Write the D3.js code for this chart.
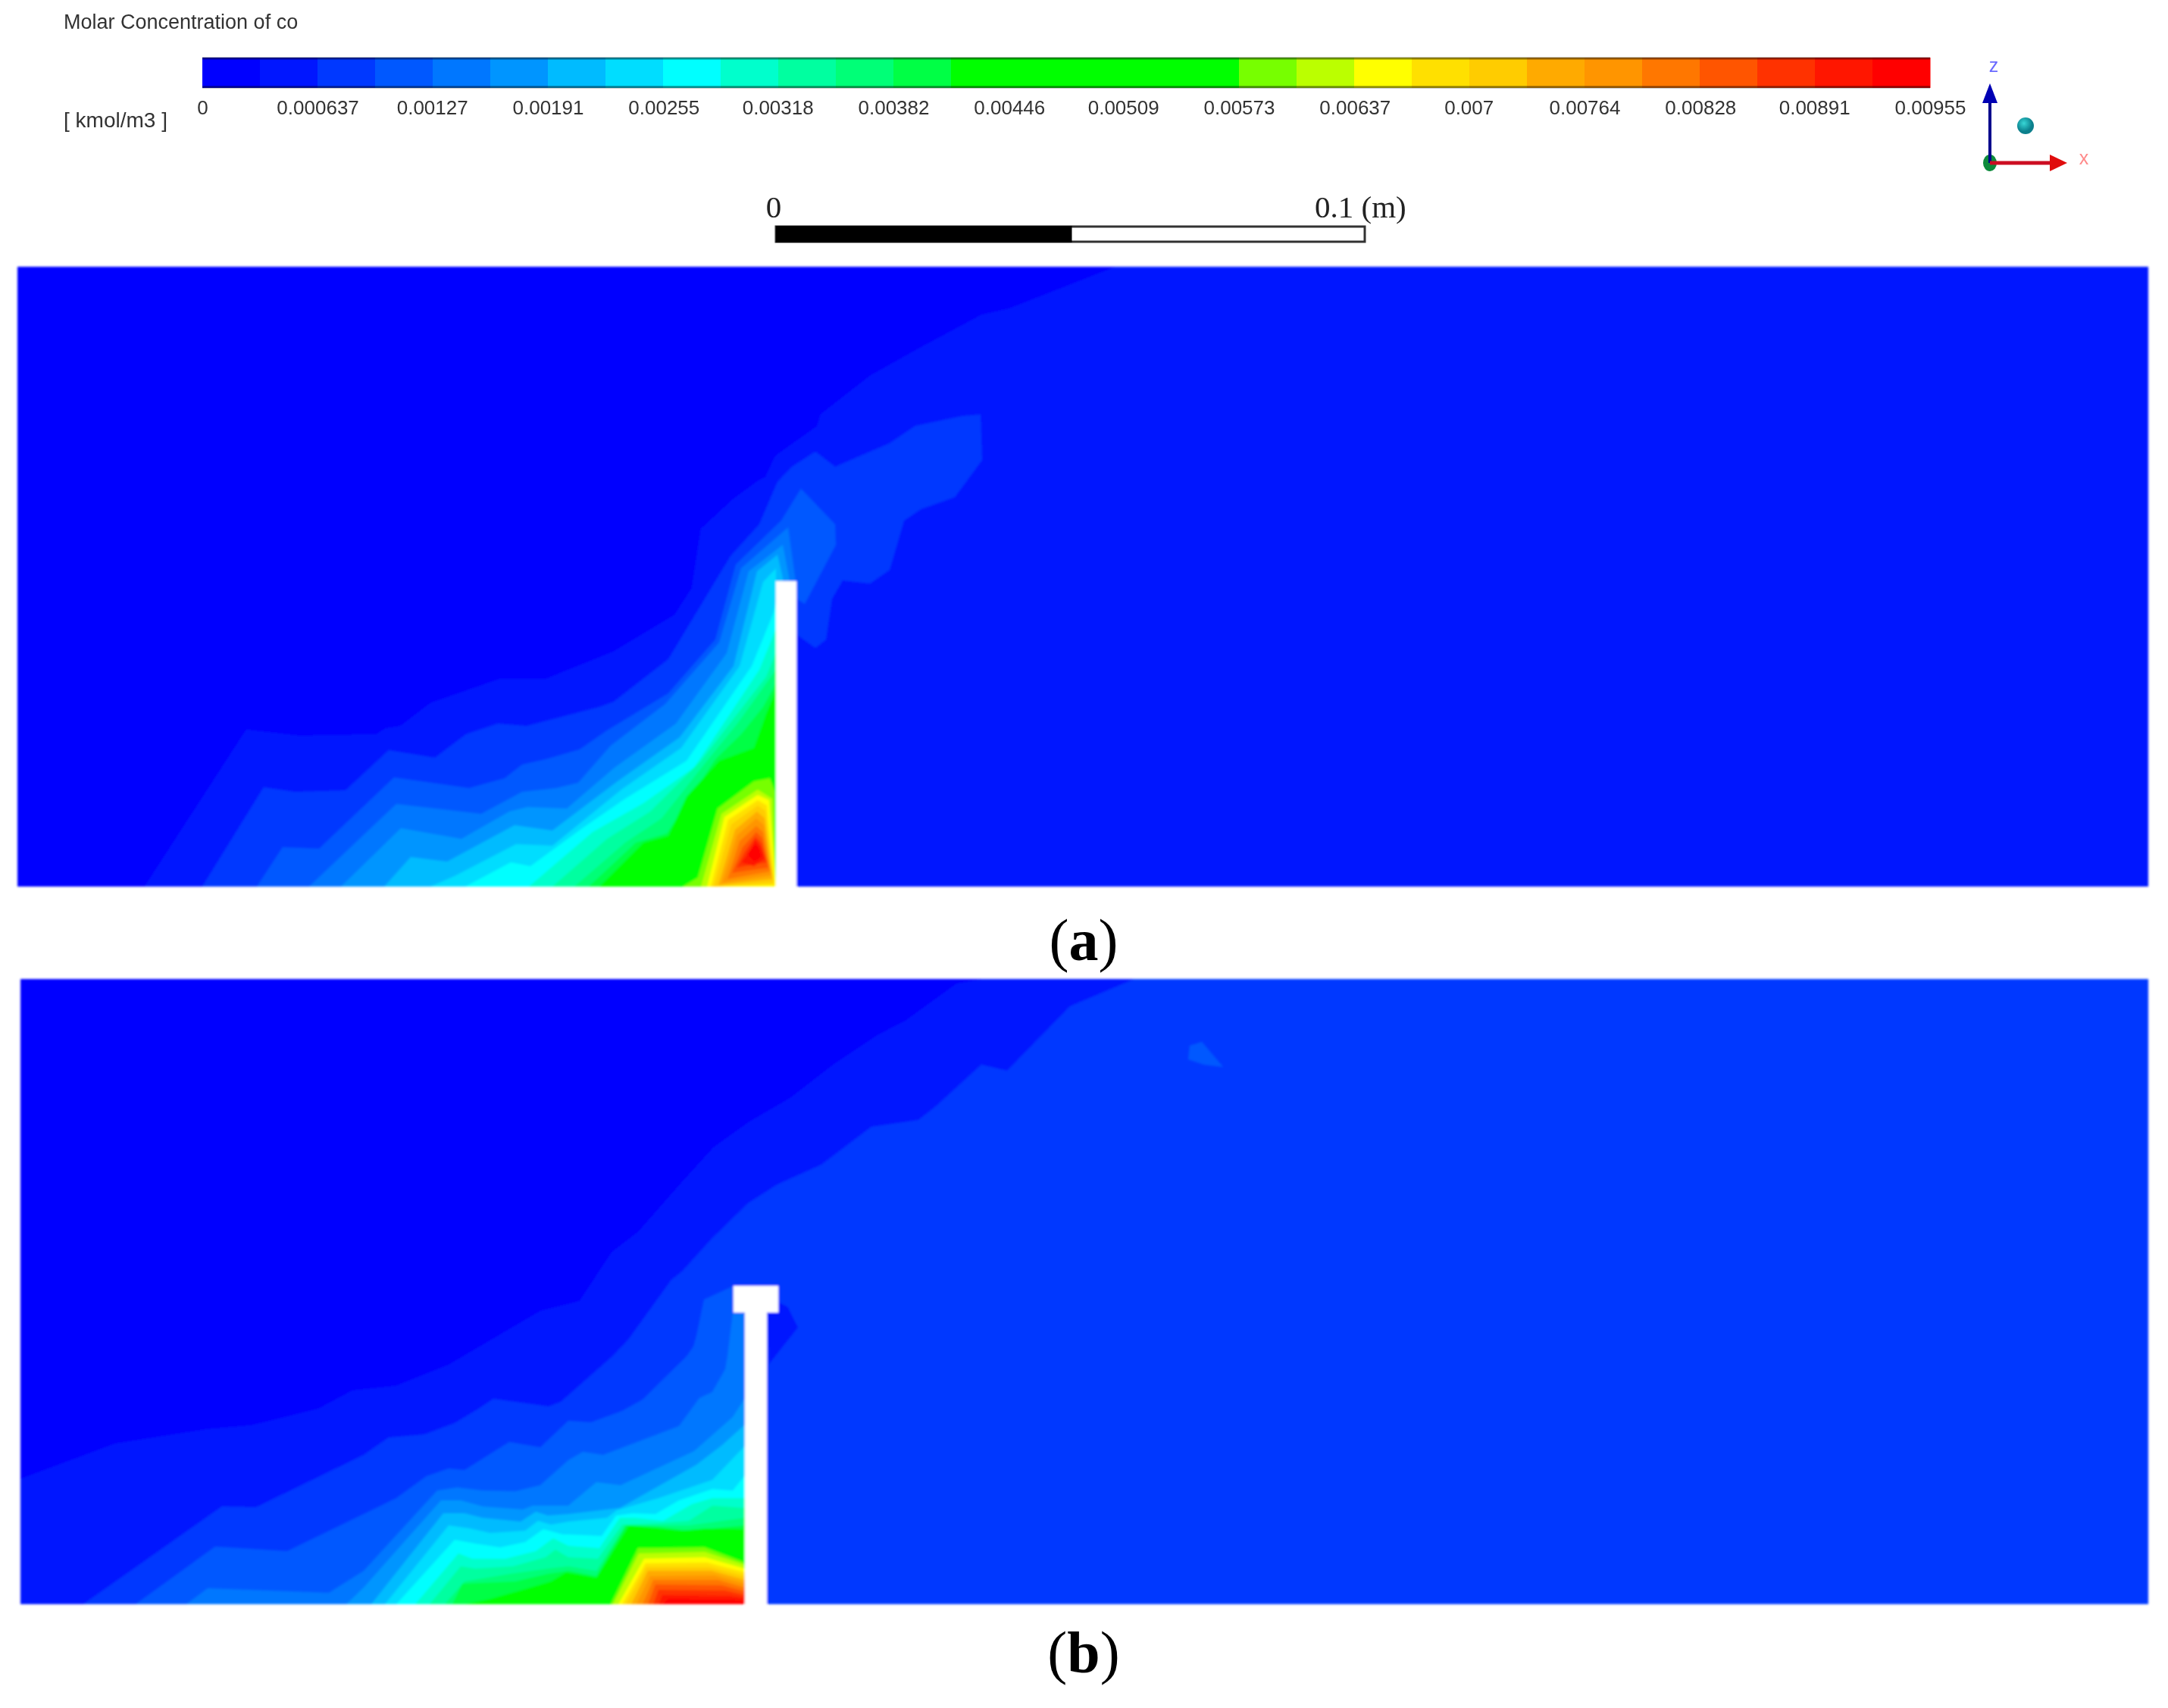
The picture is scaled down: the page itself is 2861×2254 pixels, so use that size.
<!DOCTYPE html>
<html>
<head>
<meta charset="utf-8">
<title>Molar concentration of CO</title>
<script src="https://d3js.org/d3.v7.min.js"></script>
<style>
    html, body { margin: 0; padding: 0; background: #fff; }
    svg { display: block; }
</style>
</head>
<body>
<svg id="chart" width="2861" height="2254"></svg>
<script>
// Colour bar: 30 flat bands, one label every second band
const bandColors = [
    "#0000ff", "#0014ff", "#0038ff", "#0059ff", "#0077ff", "#0095ff", "#00bbff", "#00ddff",
    "#00ffff", "#00ffcc", "#00ffa0", "#00ff77", "#00ff44", "#00ff00", "#00ff00", "#00ff00",
    "#00ff00", "#00ff00", "#77ff00", "#bbff00", "#ffff00", "#ffe000", "#ffcc00", "#ffaa00",
    "#ff9500", "#ff7700", "#ff5500", "#ff3300", "#ff1500", "#ff0000"
];
const tickValues = [0, 0.000637, 0.00127, 0.00191, 0.00255, 0.00318, 0.00382, 0.00446,
    0.00509, 0.00573, 0.00637, 0.007, 0.00764, 0.00828, 0.00891, 0.00955];
const tickLabels = ["0", "0.000637", "0.00127", "0.00191", "0.00255", "0.00318", "0.00382", "0.00446",
    "0.00509", "0.00573", "0.00637", "0.007", "0.00764", "0.00828", "0.00891", "0.00955"];

// Contour boundaries, as [along floor, above floor].
// Unit: 776 units = 0.1 m, the length of the scale bar. Each list closes on itself
// and the area inside it is at or above the band with that number.
const a2 = [[168,0],[302,207],[372,199],[474,201],[487,209],[506,212],[545,242],[637,274],[698,274],[787,310],[867,358],[890,394],[902,472],[943,510],[977,535],[987,540],[1000,568],[1055,607],[1060,623],[1124,673],[1190,710],[1274,755],[1310,763],[1450,818],[2812,818],[2812,0]];
const a3 = [[244,0],[325,131],[366,125],[433,127],[490,180],[551,170],[592,201],[634,215],[672,212],[768,237],[787,244],[859,300],[941,436],[979,478],[1003,534],[1022,554],[1053,574],[1079,554],[1151,585],[1185,608],[1247,621],[1271,623],[1273,563],[1237,514],[1192,498],[1170,483],[1151,418],[1125,400],[1089,404],[1075,380],[1067,326],[1053,315],[1028,333],[1028,0]];
const a4 = [[316,0],[350,52],[398,50],[497,144],[596,130],[643,143],[666,161],[697,168],[742,181],[778,206],[859,255],[921,326],[948,425],[1008,483],[1034,525],[1079,478],[1080,451],[1039,373],[1028,380],[1028,0]];
const a5 = [[385,0],[500,109],[612,96],[642,112],[666,125],[711,130],[740,137],[783,186],[855,241],[926,322],[955,420],[1017,474],[1027,402],[1028,0]];
const a6 = [[427,0],[506,77],[586,63],[649,99],[673,105],[725,103],[788,157],[869,215],[936,308],[965,416],[1010,451],[1019,404],[1019,0]];
const a7 = [[484,0],[519,39],[567,33],[656,81],[706,74],[792,139],[874,197],[945,291],[976,416],[1003,438],[1010,407],[1010,0]];
const a8 = [[545,0],[577,14],[658,56],[706,54],[797,128],[876,183],[953,291],[984,402],[1001,420],[1001,0]];
const a9 = [[591,0],[651,32],[677,27],[744,76],[802,116],[883,166],[969,291],[998,362],[1001,375],[1001,0]];
const a10 = [[675,0],[759,72],[826,110],[893,157],[979,286],[1001,340],[1001,0]];
const a11 = [[706,0],[778,63],[835,99],[902,166],[988,277],[1001,308],[1001,0]];
const a12 = [[735,0],[802,58],[850,90],[910,166],[950,215],[988,268],[1001,286],[1001,0]];
const a13 = [[754,0],[816,58],[857,70],[921,168],[955,201],[984,237],[1001,268],[1001,0]];
const a14 = [[768,0],[826,58],[859,67],[883,119],[926,166],[972,183],[988,228],[1001,259],[1001,0]];
const a19 = [[878,0],[898,12],[924,103],[972,139],[993,143],[1000,125],[1001,0]];
const a20 = [[902,0],[929,96],[977,128],[996,116],[1001,0]];
const a21 = [[910,0],[933,92],[977,121],[992,114],[1001,5],[1001,0]];
const a22 = [[915,0],[938,88],[977,114],[989,107],[999,2]];
const a23 = [[919,0],[942,82],[977,107],[987,100],[998,5]];
const a24 = [[925,2],[947,75],[976,99],[986,90],[996,10]];
const a25 = [[930,5],[950,68],[975,90],[985,81],[995,15]];
const a26 = [[937,10],[953,60],[975,80],[984,72],[993,20]];
const a27 = [[943,18],[957,52],[975,72],[983,64],[991,25]];
const a28 = [[949,25],[960,46],[974,66],[982,57],[989,32]];
const a29 = [[955,32],[963,42],[974,62],[981,52],[986,37],[972,27]];
const a30 = [[963,43],[974,57],[979,50],[982,40],[973,32]];

const b2 = [[0,165],[126,212],[247,231],[305,236],[394,258],[439,282],[496,288],[566,316],[687,387],[738,400],[780,464],[815,491],[873,557],[914,602],[960,635],[1015,667],[1073,712],[1130,750],[1167,769],[1236,819],[1272,825],[2808,825],[2808,0],[0,0]];
const b3 = [[83,0],[266,129],[311,128],[453,197],[486,220],[533,224],[573,239],[603,257],[624,271],[697,261],[713,267],[781,327],[802,349],[859,428],[873,439],[912,482],[960,529],[999,554],[1057,580],[1123,630],[1185,639],[1208,657],[1268,712],[1302,704],[1385,789],[1470,825],[2808,825],[2808,0]];
const bBehindWall = [[986,385],[1000,399],[1013,392],[1026,365],[988,317]];
const bLens = [[1543,737],[1559,742],[1587,709],[1562,712],[1541,719]];
const b4 = [[152,0],[257,76],[352,70],[453,119],[496,140],[536,169],[565,179],[586,177],[645,214],[686,207],[723,242],[753,240],[794,255],[821,270],[879,327],[888,340],[892,354],[902,402],[941,420],[956,420],[956,0]];
const b5 = [[219,0],[247,21],[407,15],[453,44],[550,150],[576,154],[610,150],[653,149],[686,157],[723,190],[742,201],[769,197],[869,235],[896,272],[913,280],[930,310],[933,327],[940,384],[956,384],[956,0]];
const b6 = [[430,0],[453,22],[555,137],[581,137],[610,129],[663,125],[676,130],[723,130],[760,161],[792,157],[889,202],[940,247],[956,272],[956,0]];
const b7 = [[463,0],[558,120],[586,120],[610,114],[660,109],[680,122],[696,117],[723,119],[791,127],[892,184],[926,210],[956,237],[956,0]];
const b8 = [[481,0],[565,104],[593,100],[620,94],[666,97],[683,110],[700,105],[723,109],[774,114],[787,124],[842,140],[913,164],[956,209],[956,0]];
const b9 = [[496,0],[573,85],[600,80],[633,75],[666,82],[690,99],[716,92],[723,92],[767,90],[786,117],[808,120],[838,119],[869,137],[913,152],[940,150],[956,170],[956,0]];
const b10 = [[521,0],[578,67],[596,60],[640,60],[680,70],[703,87],[723,77],[764,74],[791,114],[811,114],[848,110],[886,132],[913,140],[956,140],[956,0]];
const b11 = [[540,0],[581,50],[600,47],[650,50],[693,62],[706,72],[723,62],[762,60],[794,105],[842,107],[882,110],[913,130],[956,127],[956,0]];
const b12 = [[560,0],[586,30],[646,40],[696,47],[723,50],[760,44],[798,104],[842,104],[882,104],[956,114],[956,0]];
const b13 = [[570,0],[583,27],[653,30],[696,40],[723,44],[760,37],[799,104],[842,102],[882,97],[913,100],[956,104],[956,0]];
const b14 = [[586,0],[620,7],[666,20],[700,30],[720,42],[760,35],[803,104],[872,97],[906,100],[956,99],[956,0]];
const b19 = [[779,0],[815,74],[903,75],[956,55],[956,0]];
const b20 = [[782,0],[816,67],[903,69],[956,52],[956,0]];
const b21 = [[789,0],[823,60],[903,62],[956,47],[956,0]];
const b22 = [[794,0],[825,54],[906,55],[956,42],[956,0]];
const b23 = [[799,0],[826,49],[909,49],[956,37],[956,0]];
const b24 = [[806,0],[828,44],[912,44],[956,32],[956,0]];
const b25 = [[813,0],[831,37],[916,38],[956,27],[956,0]];
const b26 = [[821,0],[835,32],[920,32],[956,22],[956,0]];
const b27 = [[828,0],[838,26],[925,25],[956,17],[956,0]];
const b28 = [[835,0],[842,19],[930,18],[956,12],[956,0]];
const b29 = [[842,0],[847,12],[935,11],[956,8],[956,0]];
const b30 = [[848,0],[854,7],[940,6],[956,4],[956,0]];

const bandsA = [
    [2, a2], [3, a3], [4, a4], [5, a5], [6, a6], [7, a7], [8, a8], [9, a9], [10, a10], [11, a11],
    [12, a12], [13, a13], [14, a14], [19, a19], [20, a20], [21, a21], [22, a22], [23, a23], [24, a24],
    [25, a25], [26, a26], [27, a27], [28, a28], [29, a29], [30, a30]
];
const bandsB = [
    [2, b2], [3, b3], [2, bBehindWall], [4, bLens], [4, b4], [5, b5], [6, b6], [7, b7], [8, b8], [9, b9],
    [10, b10], [11, b11], [12, b12], [13, b13], [14, b14], [19, b19], [20, b20], [21, b21], [22, b22],
    [23, b23], [24, b24], [25, b25], [26, b26], [27, b27], [28, b28], [29, b29], [30, b30]
];

// Solid wall in each chamber, same units: [left, right, bottom, top]
const wallsA = [[1001, 1028, 0, 403]];
const wallsB = [[956, 985, 0, 395], [941, 1000, 385, 420]];

const svg = d3.select("#chart");
const defs = svg.append("defs");

const soft = defs.append("filter").attr("id", "soft")
    .attr("filterUnits", "userSpaceOnUse")
    .attr("x", 0).attr("y", 0).attr("width", 2861).attr("height", 2254);
soft.append("feGaussianBlur").attr("stdDeviation", 1.4);

const softText = defs.append("filter").attr("id", "softText")
    .attr("filterUnits", "userSpaceOnUse")
    .attr("x", 0).attr("y", 0).attr("width", 2861).attr("height", 340);
softText.append("feGaussianBlur").attr("stdDeviation", 0.7);

const sphereFill = defs.append("radialGradient").attr("id", "sphereFill").attr("cx", "40%").attr("cy", "35%");
sphereFill.append("stop").attr("offset", "0%").attr("stop-color", "#38d6d6");
sphereFill.append("stop").attr("offset", "100%").attr("stop-color", "#0a7f8c");

// Header: title, unit, colour bar
const header = svg.append("g").attr("filter", "url(#softText)");

header.append("text")
    .attr("x", 84).attr("y", 38)
    .attr("font-family", "Liberation Sans").attr("font-size", 27).attr("fill", "#333")
    .text("Molar Concentration of co");

header.append("text")
    .attr("x", 84).attr("y", 168)
    .attr("font-family", "Liberation Sans").attr("font-size", 28).attr("fill", "#333")
    .text("[ kmol/m3 ]");

const barBand = d3.scaleBand().domain(d3.range(30)).range([267, 2547]);
const barValue = d3.scaleLinear().domain([0, 0.00955]).range([267, 2547]);

header.selectAll("rect.band")
    .data(bandColors)
    .join("rect")
    .attr("class", "band")
    .attr("x", (d, i) => barBand(i))
    .attr("y", 76)
    .attr("width", barBand.bandwidth() + 0.5)
    .attr("height", 40)
    .attr("fill", d => d);

// darker top and bottom rim of the colour bar
[77, 115].forEach(y => {
    header.append("line")
        .attr("x1", 267).attr("x2", 2547)
        .attr("y1", y).attr("y2", y)
        .attr("stroke", "#000").attr("stroke-opacity", 0.45).attr("stroke-width", 3);
});

const barAxis = d3.axisBottom(barValue)
    .tickValues(tickValues)
    .tickFormat((d, i) => tickLabels[i])
    .tickSize(0)
    .tickPadding(17);

const barAxisG = header.append("g")
    .attr("transform", "translate(0,116)")
    .call(barAxis);
barAxisG.select(".domain").remove();
barAxisG.selectAll("text")
    .attr("font-family", "Liberation Sans").attr("font-size", 26).attr("fill", "#333");

// Scale bar
const barX = d3.scaleLinear().domain([0, 0.1]).range([1024, 1801]);

header.append("rect")
    .attr("x", barX(0)).attr("y", 299)
    .attr("width", barX(0.1) - barX(0)).attr("height", 20)
    .attr("fill", "#fff").attr("stroke", "#333").attr("stroke-width", 3);
header.append("rect")
    .attr("x", barX(0)).attr("y", 298)
    .attr("width", barX(0.05) - barX(0) + 2).attr("height", 22)
    .attr("fill", "#000");

header.append("text")
    .attr("x", barX(0) - 3).attr("y", 287)
    .attr("text-anchor", "middle")
    .attr("font-family", "Liberation Serif").attr("font-size", 41).attr("fill", "#222")
    .text("0");
header.append("text")
    .attr("x", 1735).attr("y", 287)
    .attr("font-family", "Liberation Serif").attr("font-size", 41).attr("fill", "#222")
    .text("0.1 (m)");

// Axis triad
const triad = header.append("g");
triad.append("ellipse")
    .attr("cx", 2626).attr("cy", 215).attr("rx", 9).attr("ry", 11).attr("fill", "#0a8a3a");
triad.append("line")
    .attr("x1", 2626).attr("x2", 2626).attr("y1", 215).attr("y2", 134)
    .attr("stroke", "#00008c").attr("stroke-width", 4);
triad.append("path")
    .attr("d", "M2626,110L2636,136L2616,136Z").attr("fill", "#0000b4");
triad.append("line")
    .attr("x1", 2626).attr("x2", 2707).attr("y1", 215).attr("y2", 215)
    .attr("stroke", "#cc1122").attr("stroke-width", 5);
triad.append("path")
    .attr("d", "M2728,215L2705,204L2705,226Z").attr("fill", "#e01010");
triad.append("circle")
    .attr("cx", 2673).attr("cy", 166).attr("r", 11).attr("fill", "url(#sphereFill)");
triad.append("text")
    .attr("x", 2631).attr("y", 95).attr("text-anchor", "middle")
    .attr("font-family", "Liberation Sans").attr("font-size", 25).attr("fill", "#6a6aff")
    .text("z");
triad.append("text")
    .attr("x", 2750).attr("y", 217).attr("text-anchor", "middle")
    .attr("font-family", "Liberation Sans").attr("font-size", 25).attr("fill", "#ff8a8a")
    .text("x");

// One contour panel: flat base band, then the filled bands on top of each other
function drawPanel(bands, walls, xRange, zRange, xMax, zMax) {
    const x = d3.scaleLinear().domain([0, xMax]).range(xRange);
    const z = d3.scaleLinear().domain([0, zMax]).range(zRange);
    const outline = d3.line().x(d => x(d[0])).y(d => z(d[1])).curve(d3.curveLinearClosed);

    const g = svg.append("g").attr("filter", "url(#soft)");

    g.append("rect")
        .attr("x", x(0)).attr("y", z(zMax))
        .attr("width", x(xMax) - x(0)).attr("height", z(0) - z(zMax))
        .attr("fill", bandColors[0]);

    g.selectAll("path.band")
        .data(bands)
        .join("path")
        .attr("class", "band")
        .attr("d", d => outline(d[1]))
        .attr("fill", d => bandColors[d[0] - 1]);

    // walls sitting on the floor run a little past it so the gap stays open
    g.selectAll("rect.wall")
        .data(walls)
        .join("rect")
        .attr("class", "wall")
        .attr("x", d => x(d[0]))
        .attr("y", d => z(d[3]))
        .attr("width", d => x(d[1]) - x(d[0]))
        .attr("height", d => z(d[2]) - z(d[3]) + (d[2] === 0 ? 4 : 0))
        .attr("fill", "#fff");
}

drawPanel(bandsA, wallsA, [23, 2835], [1170, 352], 2812, 818);
drawPanel(bandsB, wallsB, [27, 2835], [2117, 1292], 2808, 825);

// Panel letters
function panelLetter(letter, y) {
    const t = svg.append("text")
        .attr("x", 1430).attr("y", y)
        .attr("text-anchor", "middle")
        .attr("font-family", "Liberation Serif").attr("font-size", 78).attr("fill", "#000");
    t.append("tspan").text("(");
    t.append("tspan").attr("font-weight", "bold").text(letter);
    t.append("tspan").text(")");
}

panelLetter("a", 1267);
panelLetter("b", 2207);
</script>
</body>
</html>
